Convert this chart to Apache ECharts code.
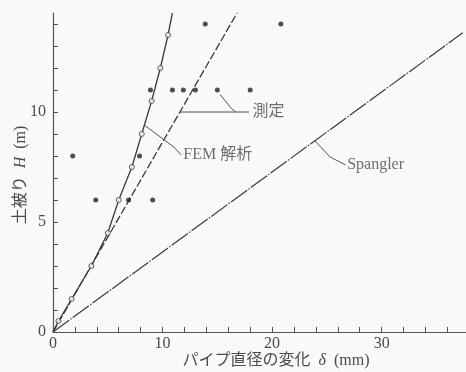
<!DOCTYPE html>
<html lang="ja">
<head>
<meta charset="UTF-8">
<title>土被りとパイプ直径の変化</title>
<script src="https://cdn.jsdelivr.net/npm/echarts@6/dist/echarts.min.js"></script>
<style>
  html, body { margin: 0; padding: 0; background: #f9f9f7; }
  #chart { width: 466px; height: 372px; }
</style>
</head>
<body>
<div id="chart"></div>
<script>
// 測定 (filled dots)
var measuredX = [13.9, 20.8, 8.9, 10.9, 11.9, 13.0, 15.0, 18.0, 1.8, 7.9, 3.9, 6.9, 9.1];
var measuredH = [14, 14, 11, 11, 11, 11, 11, 11, 8, 8, 6, 6, 6];

// FEM 解析 (open circles, solid curve)
var femX = [0.5, 1.7, 3.5, 5.0, 6.0, 7.2, 8.1, 9.0, 9.8, 10.5];
var femH = [0.5, 1.5, 3, 4.5, 6, 7.5, 9, 10.5, 12, 13.5];
var femLineX = [0, 0.5, 1.7, 3.5, 5.0, 6.0, 7.2, 8.1, 9.0, 9.8, 10.5, 10.9];
var femLineH = [0, 0.5, 1.5, 3, 4.5, 6, 7.5, 9, 10.5, 12, 13.5, 14.5];

// 測定 fitted line (dashed) and Spangler line
var fitX = [0, 16.8];
var fitH = [0, 14.5];
var spanglerX = [0, 37.4];
var spanglerH = [0, 13.6];

// axis ticks / labels
var xTicks = [0, 2, 4, 6, 8, 10, 12, 14, 16, 18, 20, 22, 24, 26, 28, 30, 32, 34, 36];
var xLabels = [0, 10, 20, 30];
var yTicks = [0, 1, 2, 3, 4, 5, 6, 7, 8, 9, 10, 11, 12, 13, 14];
var yLabels = [0, 5, 10];

// callouts: text anchor and leader polylines (data coords)
var calloutText = ['測定', 'FEM 解析', 'Spangler'];
var calloutAt = [[18.2, 10.0], [11.9, 8.05], [26.85, 7.6]];
var leaders = [
  [[11.6, 10.0], [17.9, 10.0]],
  [[15.25, 10.8], [16.3, 10.15], [16.7, 10.0]],
  [[8.35, 9.4], [11.05, 8.4], [11.7, 8.05]],
  [[23.9, 8.69], [25.3, 7.95], [26.7, 7.6]]
];

function zip(xs, ys) {
  return xs.map(function (x, i) { return [x, ys[i]]; });
}

var ink = '#3a3a3a';
var txt = '#4a4a4a';
var font = '"Liberation Serif", "Noto Sans CJK JP", serif';

var chart = echarts.init(document.getElementById('chart'), null, { renderer: 'canvas' });

var series = [
  {
    type: 'line', data: zip(spanglerX, spanglerH), symbol: 'none', silent: true,
    lineStyle: { color: ink, width: 1.2, type: [20, 1.5, 1.5, 1.5] }
  },
  {
    type: 'line', data: zip(fitX, fitH), symbol: 'none', silent: true,
    lineStyle: { color: ink, width: 1.3, type: [8, 2.5] }
  },
  {
    type: 'line', data: zip(femLineX, femLineH), symbol: 'none', silent: true,
    lineStyle: { color: ink, width: 1.3 }
  },
  {
    type: 'scatter', data: zip(femX, femH), symbol: 'circle', symbolSize: 5,
    itemStyle: { color: '#fafafa', borderColor: ink, borderWidth: 1 }, z: 4
  },
  {
    type: 'scatter', data: zip(measuredX, measuredH), symbol: 'circle', symbolSize: 5,
    itemStyle: { color: '#222' }, z: 4
  },
  {
    type: 'scatter', symbolSize: 0, silent: true,
    data: calloutAt.map(function (p, i) { return { value: p, name: calloutText[i] }; }),
    label: {
      show: true, position: 'right', distance: 0, formatter: '{b}',
      color: txt, fontFamily: font, fontSize: 16
    }
  }
];
leaders.forEach(function (pts) {
  series.push({
    type: 'line', data: pts, symbol: 'none', silent: true,
    lineStyle: { color: '#555', width: 1 }
  });
});

chart.setOption({
  backgroundColor: '#f9f9f7',
  animation: false,
  grid: { left: 53, right: 0, top: 13, bottom: 40, outerBoundsMode: 'none' },
  xAxis: {
    type: 'value', min: 0, max: 37.7,
    splitLine: { show: false },
    axisLine: { lineStyle: { color: '#555', width: 1.2 } },
    axisTick: { inside: true, length: 5, customValues: xTicks, lineStyle: { color: '#555' } },
    axisLabel: { customValues: xLabels, color: txt, fontFamily: font, fontSize: 16, margin: 4 }
  },
  yAxis: {
    type: 'value', min: 0, max: 14.5,
    splitLine: { show: false },
    axisLine: { show: true, lineStyle: { color: '#555', width: 1.2 } },
    axisTick: { show: true, inside: true, length: 5, customValues: yTicks, lineStyle: { color: '#555' } },
    axisLabel: { customValues: yLabels, color: txt, fontFamily: font, fontSize: 16, margin: 7 }
  },
  graphic: [
    {
      type: 'text', x: 276, y: 361,
      style: {
        text: 'パイプ直径の変化  {i|δ}  (mm)', fill: txt, font: '16px ' + font,
        align: 'center', verticalAlign: 'middle',
        rich: { i: { fontStyle: 'italic', fontSize: 16, fontFamily: font, fill: txt } }
      }
    },
    {
      type: 'text', x: 21, y: 175, rotation: Math.PI / 2,
      style: {
        text: '土被り  {i|H}  (m)', fill: txt, font: '16px ' + font,
        align: 'center', verticalAlign: 'middle',
        rich: { i: { fontStyle: 'italic', fontSize: 16, fontFamily: font, fill: txt } }
      }
    }
  ],
  series: series
});
</script>
</body>
</html>
